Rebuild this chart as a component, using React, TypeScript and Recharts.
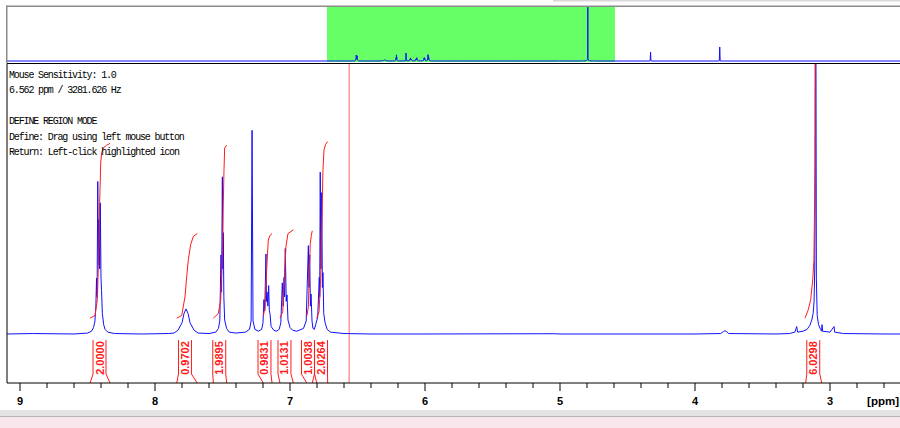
import React from "react";
import {
  ComposedChart,
  Line,
  Scatter,
  XAxis,
  YAxis,
  ReferenceArea,
  ReferenceLine,
} from "recharts";

// ppm windows: main view and the full-width overview strip
const mainRange = [2.4815, 9.0963];
const overviewRange = [-4.064, 16.446];
const cursorPpm = 6.562;

const xTicks = [
  9, 8.8, 8.6, 8.4, 8.2, 8, 7.8, 7.6, 7.4, 7.2, 7, 6.8, 6.6, 6.4, 6.2, 6, 5.8,
  5.6, 5.4, 5.2, 5, 4.8, 4.6, 4.4, 4.2, 4, 3.8, 3.6, 3.4, 3.2, 3, 2.8, 2.6,
];
const yTicks = [
  -50, -40, -30, -20, -10, 0, 10, 20, 30, 40, 50, 60, 70, 80, 90, 100, 110,
  120, 130, 140, 150, 160, 170, 180, 190, 200, 210, 220, 230, 240, 250, 260,
  270, 280, 290,
];

// spectrum, [ppm, intensity]
const aromaticPoints: [number, number][] = [
  [16.5, 0], [9.1, 0], [8.9, 0.5], [8.6, 0], [8.5, 1], [8.47, 3], [8.455, 7],
  [8.445, 14], [8.438, 30], [8.433, 60], [8.429, 40], [8.424, 164], [8.419, 75],
  [8.415, 123], [8.41, 70], [8.405, 141], [8.4, 60], [8.396, 47], [8.39, 22],
  [8.38, 10], [8.37, 5], [8.35, 2], [8.3, 0.5], [8.1, 0],
  [7.9, 0.5], [7.86, 1], [7.83, 4], [7.8, 12], [7.785, 22], [7.77, 27],
  [7.755, 22], [7.74, 12], [7.71, 4], [7.68, 1],
  [7.6, 0.5], [7.55, 2], [7.53, 6], [7.52, 14], [7.514, 64], [7.511, 85],
  [7.507, 45], [7.501, 169], [7.497, 70], [7.494, 109], [7.49, 40], [7.484, 15],
  [7.47, 6], [7.45, 2], [7.4, 1],
  [7.33, 2], [7.3, 5], [7.288, 14], [7.281, 219], [7.274, 14], [7.26, 5],
  [7.235, 3],
  [7.21, 5], [7.2, 12], [7.193, 37], [7.187, 25], [7.178, 86], [7.174, 35],
  [7.17, 45], [7.164, 30], [7.158, 52], [7.153, 25], [7.148, 22], [7.14, 8],
  [7.12, 4], [7.1, 3],
  [7.08, 5], [7.068, 12], [7.057, 55], [7.05, 30], [7.044, 61], [7.04, 40],
  [7.035, 92], [7.028, 35], [7.022, 42], [7.015, 15], [7.0, 7], [6.98, 4],
  [6.95, 3],
  [6.9, 6], [6.88, 14], [6.864, 95], [6.859, 50], [6.854, 85], [6.849, 30],
  [6.844, 43], [6.837, 14], [6.83, 6], [6.82, 5], [6.81, 10], [6.795, 18],
  [6.783, 61], [6.78, 40], [6.776, 174], [6.771, 70], [6.765, 152], [6.76, 50],
  [6.756, 66], [6.75, 22], [6.74, 12], [6.725, 5], [6.7, 2], [6.6, 0.5],
  [6.4, 0],
];

const aliphaticPoints: [number, number][] = [
  [6.0, 0], [5.05, 0.3], [5.0, 0], [4.0, 0], [3.81, 0.5], [3.79, 2.5],
  [3.778, 3.5], [3.765, 2.5], [3.75, 0.5], [3.4, 0],
  [3.3, 0.5], [3.26, 2], [3.247, 8], [3.24, 2], [3.2, 3], [3.17, 5], [3.15, 9],
  [3.135, 15], [3.125, 22], [3.118, 35], [3.113, 70], [3.11, 150], [3.108, 400],
  [3.106, 1470], [3.104, 300], [3.101, 60], [3.095, 20], [3.085, 10], [3.07, 5],
  [3.062, 3], [3.059, 10], [3.055, 3], [3.0, 2], [2.97, 8], [2.965, 2],
  [2.9, 0.5], [2.6, 0], [2.0, 0],
];

// water + TMS, only visible in the overview
const solventPoints: [number, number][] = [
  [1.69, 0], [1.675, 6], [1.665, 246], [1.655, 6], [1.64, 0], [0.1, 0],
  [0.086, 6], [0.076, 383], [0.066, 6], [0.05, 0], [-4.1, 0],
];

// integral curves, [ppm, height]
const integralCurves: [number, number][][] = [
  [[8.481, 17], [8.444, 20], [8.427, 37], [8.417, 87], [8.41, 141], [8.402, 184], [8.395, 195], [8.383, 200], [8.358, 203], [8.333, 205]],
  [[7.839, 17], [7.802, 20], [7.778, 40], [7.765, 62], [7.753, 80], [7.736, 96], [7.716, 105], [7.687, 108]],
  [[7.568, 17], [7.531, 22], [7.513, 37], [7.501, 87], [7.494, 141], [7.489, 176], [7.484, 200], [7.469, 203]],
  [[7.198, 19], [7.185, 29], [7.173, 69], [7.161, 101], [7.148, 106], [7.133, 108]],
  [[7.074, 17], [7.054, 24], [7.042, 58], [7.03, 94], [7.015, 108], [6.975, 112]],
  [[6.876, 19], [6.864, 29], [6.857, 65], [6.85, 97], [6.842, 106], [6.835, 111]],
  [[6.802, 17], [6.785, 24], [6.773, 58], [6.763, 123], [6.756, 176], [6.748, 198], [6.736, 204], [6.721, 207]],
  [[3.185, 17], [3.161, 26], [3.143, 37], [3.128, 58], [3.119, 80], [3.114, 144], [3.111, 187], [3.109, 300], [3.107, 700], [3.105, 1000], [3.09, 1050], [3.061, 1060]],
];

const integralLabels = ["2.0000", "0.9702", "1.9895", "0.9831", "1.0131", "1.0038", "2.0264", "6.0298"];
const integralStart = [8.481, 7.839, 7.568, 7.198, 7.074, 6.876, 6.802, 3.18];
const integralEnd = [8.333, 7.687, 7.469, 7.133, 6.975, 6.835, 6.721, 3.061];
const labelPpm = [8.411, 7.778, 7.524, 7.189, 7.041, 6.867, 6.77, 3.124];

const infoLines = [
  "Mouse Sensitivity: 1.0",
  "6.562 ppm / 3281.626 Hz",
  "",
  "DEFINE REGION MODE",
  "Define: Drag using left mouse button",
  "Return: Left-click highlighted icon",
];

const spectrum = [...aromaticPoints, ...aliphaticPoints, ...solventPoints].map(
  ([x, y]) => ({ x, y }),
);

const BLUE = "#1010ff";
const RED = "#ff1a1a";
const SANS = "'Liberation Sans', Arial, sans-serif";

const bracketHalf = 0.048;
const bracketTop = -6.5;
const bracketBend = -43;
const bracketBottom = -52.7;

const brackets = integralLabels.map((_, i) => ({
  left: [
    { x: labelPpm[i] + bracketHalf, y: bracketTop },
    { x: labelPpm[i] + bracketHalf, y: bracketBend },
    { x: integralStart[i], y: bracketBottom },
  ],
  right: [
    { x: labelPpm[i] - bracketHalf, y: bracketTop },
    { x: labelPpm[i] - bracketHalf, y: bracketBend },
    { x: integralEnd[i], y: bracketBottom },
  ],
}));

const labelData = integralLabels.map((text, i) => ({ x: labelPpm[i], y: -25.8, text }));

function PpmTick(props: any) {
  const { x, y, payload } = props;
  const v = payload.value as number;
  const major = Number.isInteger(v);
  return (
    <g>
      <line x1={x} x2={x} y1={y} y2={y + (major ? 8 : 5)} stroke="#000" />
      {major && (
        <text x={x} y={y + 22} textAnchor="middle" fontSize={11} fontWeight="bold" fontFamily={SANS} fill="#000">
          {v}
        </text>
      )}
    </g>
  );
}

function IntegralLabel(props: any) {
  const { cx, cy, payload } = props;
  return (
    <text
      x={cx}
      y={cy}
      transform={`rotate(-90 ${cx} ${cy})`}
      textAnchor="middle"
      dominantBaseline="central"
      fontSize={11}
      fontWeight="bold"
      fontFamily={SANS}
      fill={RED}
    >
      {payload.text}
    </text>
  );
}

export default function App() {
  return (
    <div style={{ position: "absolute", left: 0, top: 0, width: 900, height: 428, background: "#fff", overflow: "hidden" }}>
      {/* overview strip */}
      <div style={{ position: "absolute", left: 0, top: 0 }}>
        <ComposedChart width={900} height={62} margin={{ top: 7, right: 0, bottom: 0, left: 7 }}>
          <XAxis dataKey="x" type="number" domain={overviewRange} reversed allowDataOverflow hide />
          <YAxis type="number" domain={[-27, 1475]} allowDataOverflow hide />
          <ReferenceArea x1={mainRange[0]} x2={mainRange[1]} y1={-27} y2={1475} fill="#66ff66" fillOpacity={1} stroke="none" />
          <Line data={spectrum} dataKey="y" type="linear" stroke={BLUE} strokeWidth={1} dot={false} activeDot={false} isAnimationActive={false} />
        </ComposedChart>
      </div>

      {/* main spectrum */}
      <div style={{ position: "absolute", left: 0, top: 0 }}>
        <ComposedChart width={900} height={428} margin={{ top: 64, right: 0, bottom: 0, left: 0 }}>
          <XAxis
            dataKey="x"
            type="number"
            domain={mainRange}
            reversed
            allowDataOverflow
            ticks={xTicks}
            interval={0}
            tickSize={0}
            tickMargin={0}
            tickLine={false}
            tick={<PpmTick />}
            height={45}
            axisLine={{ stroke: "#000" }}
          />
          <YAxis
            type="number"
            domain={[-52.69, 290.32]}
            allowDataOverflow
            ticks={yTicks}
            interval={0}
            width={7}
            tickSize={7}
            tick={false}
            tickLine={{ stroke: "#000" }}
            axisLine={{ stroke: "#000" }}
          />
          <ReferenceLine x={cursorPpm} stroke="#ff6464" strokeWidth={1} />
          <Line data={spectrum} dataKey="y" type="linear" stroke={BLUE} strokeWidth={1} dot={false} activeDot={false} isAnimationActive={false} />
          {integralCurves.map((curve, i) => (
            <Line
              key={`int-${i}`}
              data={curve.map(([x, y]) => ({ x, y }))}
              dataKey="y"
              type="linear"
              stroke={RED}
              strokeWidth={1}
              dot={false}
              activeDot={false}
              isAnimationActive={false}
            />
          ))}
          {brackets.map((b, i) => (
            <Line key={`bl-${i}`} data={b.left} dataKey="y" type="linear" stroke={RED} strokeWidth={1} dot={false} activeDot={false} isAnimationActive={false} />
          ))}
          {brackets.map((b, i) => (
            <Line key={`br-${i}`} data={b.right} dataKey="y" type="linear" stroke={RED} strokeWidth={1} dot={false} activeDot={false} isAnimationActive={false} />
          ))}
          <Scatter data={labelData} dataKey="y" shape={<IntegralLabel />} isAnimationActive={false} />
        </ComposedChart>
      </div>

      {/* window chrome + status text */}
      <svg width={900} height={428} style={{ position: "absolute", left: 0, top: 0, pointerEvents: "none" }}>
        <rect x={553} y={0} width={347} height={1.5} fill="#d9d9d9" />
        <rect x={6} y={5.5} width={894} height={1.5} fill="#8c8c8c" />
        <rect x={6} y={5.5} width={1.5} height={58} fill="#8c8c8c" />
        <rect x={7} y={63} width={893} height={1} fill="#000" />
        {infoLines.map((t, i) => (
          <text
            key={i}
            x={9}
            y={78 + i * 15.4}
            fontSize={10}
            fontFamily="'Liberation Mono', 'DejaVu Sans Mono', monospace"
            letterSpacing={-1.15}
            fill="#000"
          >
            {t}
          </text>
        ))}
        <text x={899} y={405} textAnchor="end" fontSize={11.5} fontWeight="bold" fontFamily={SANS} fill="#000">
          [ppm]
        </text>
        <rect x={0} y={410} width={900} height={7} fill="#e4e4e4" />
        <rect x={0} y={416} width={900} height={1} fill="#b4b4b4" />
        <rect x={0} y={417} width={900} height={11} fill="#f9e6ed" />
      </svg>
    </div>
  );
}
